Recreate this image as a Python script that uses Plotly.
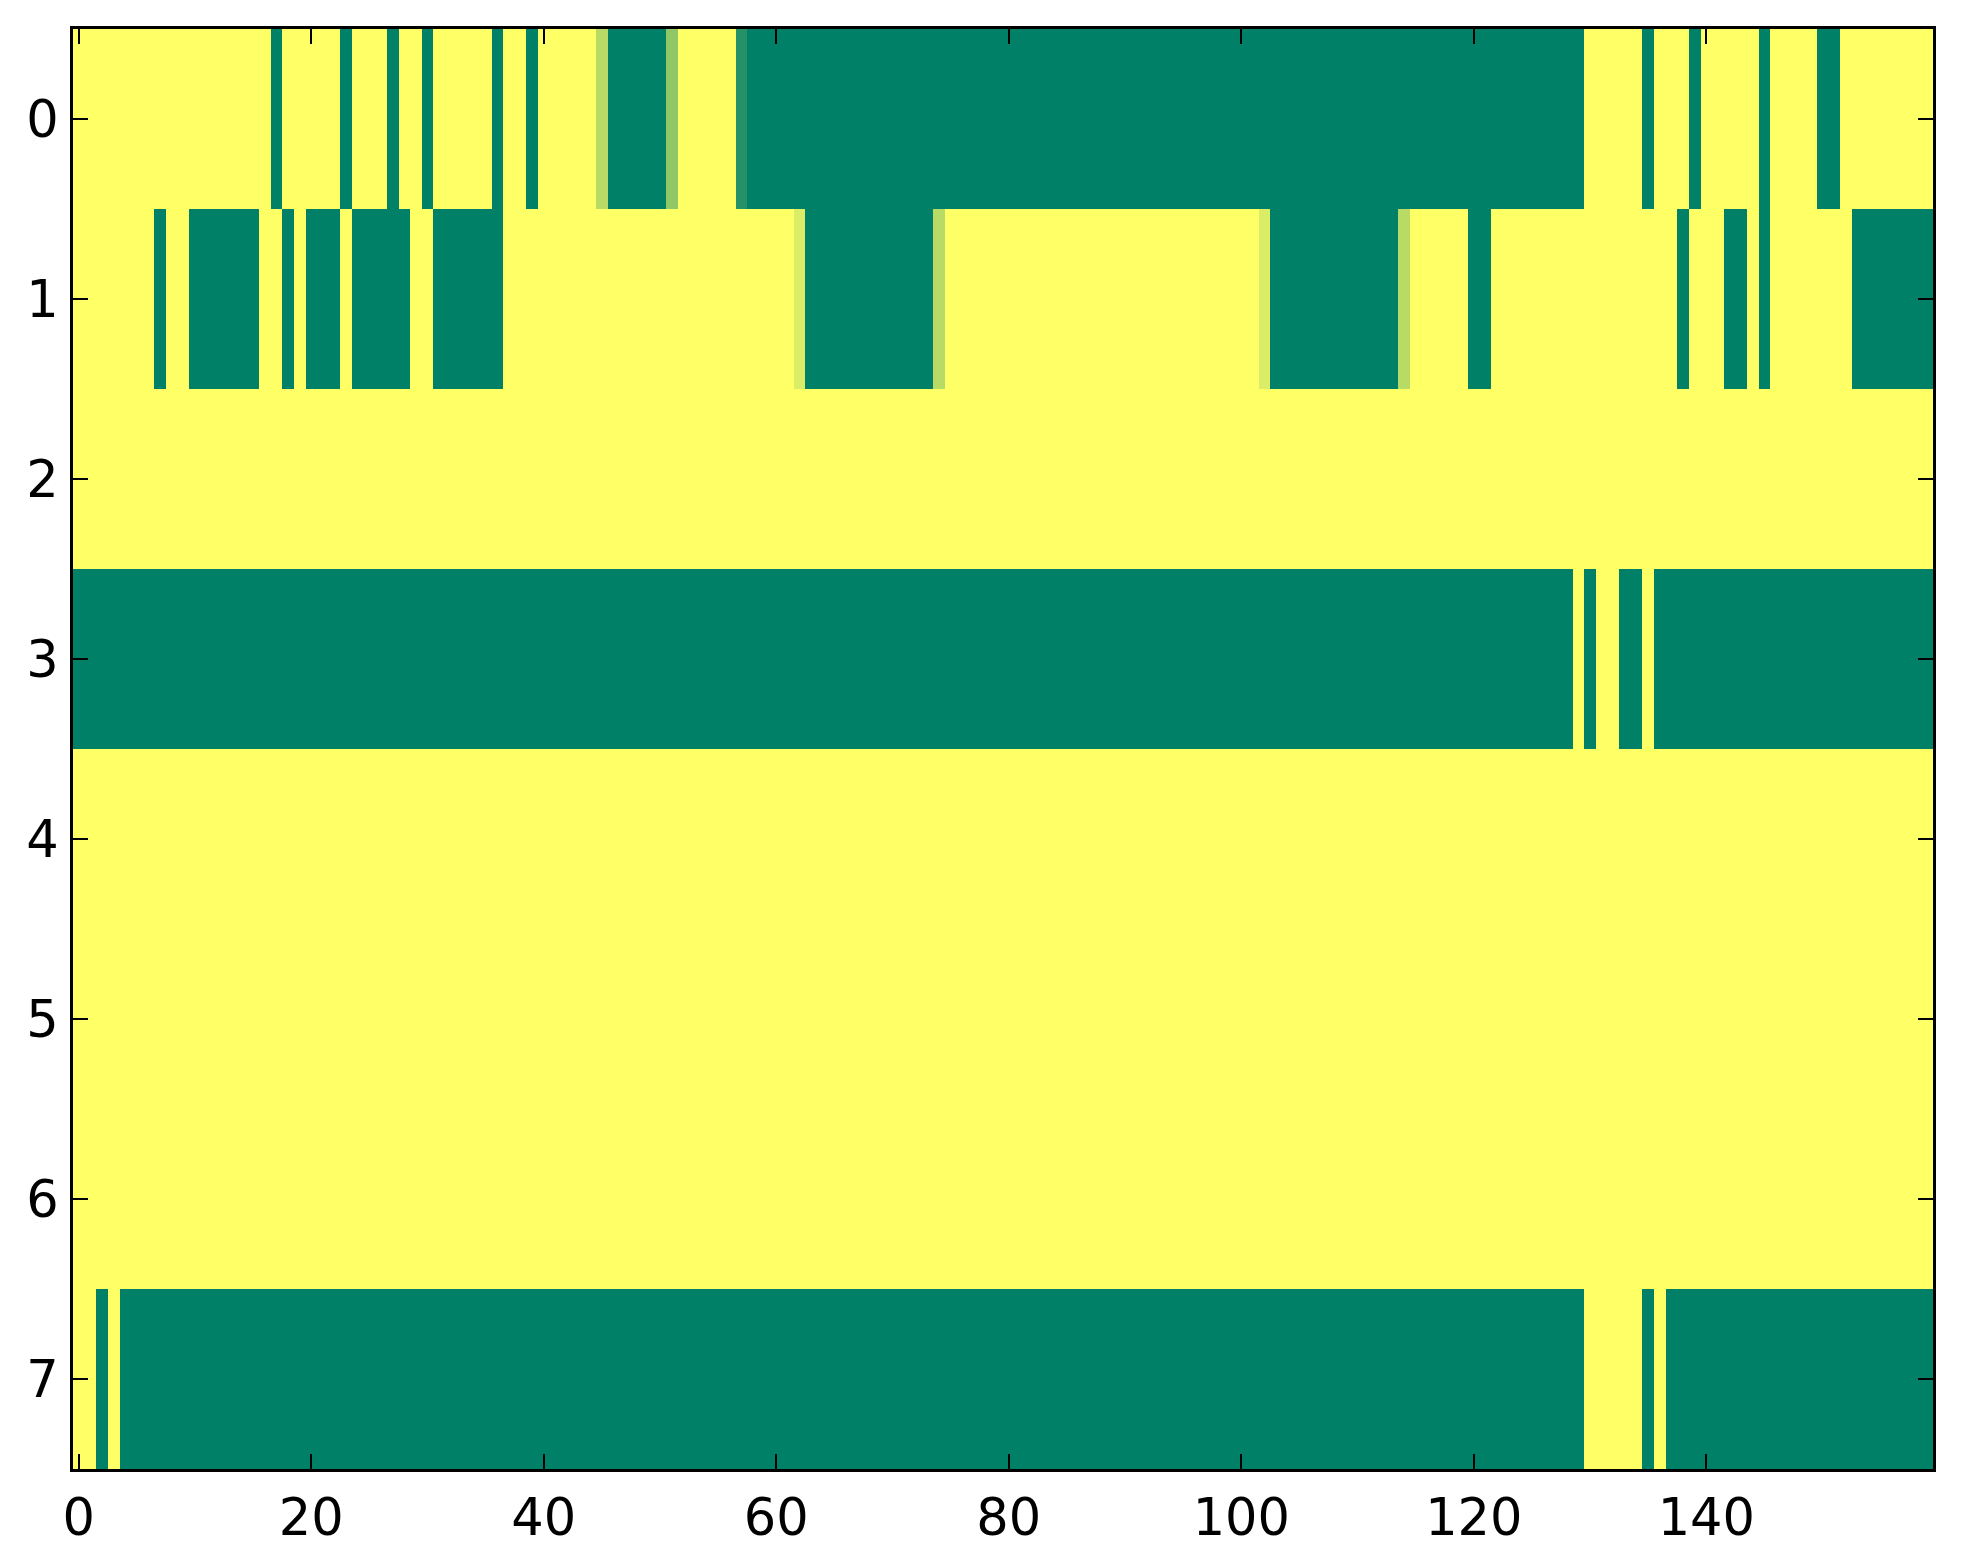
import plotly.graph_objects as go

# Column indices (0..159) and row indices (0..7)
col_index = list(range(160))
row_index = [0, 1, 2, 3, 4, 5, 6, 7]
x_tick_vals = [0, 20, 40, 60, 80, 100, 120, 140]
y_tick_vals = [0, 1, 2, 3, 4, 5, 6, 7]

# Values (1 = yellow, 0 = green, summer colormap)
row0 = [1, 1, 1, 1, 1, 1, 1, 1, 1, 1, 1, 1, 1, 1, 1, 1, 1, 0, 1, 1,
        1, 1, 1, 0, 1, 1, 1, 0, 1, 1, 0, 1, 1, 1, 1, 1, 0, 1, 1, 0,
        1, 1, 1, 1, 1, 0.72, 0, 0, 0, 0, 0, 0.57, 1, 1, 1, 1, 1, 0.14, 0, 0,
        0, 0, 0, 0, 0, 0, 0, 0, 0, 0, 0, 0, 0, 0, 0, 0, 0, 0, 0, 0,
        0, 0, 0, 0, 0, 0, 0, 0, 0, 0, 0, 0, 0, 0, 0, 0, 0, 0, 0, 0,
        0, 0, 0, 0, 0, 0, 0, 0, 0, 0, 0, 0, 0, 0, 0, 0, 0, 0, 0, 0,
        0, 0, 0, 0, 0, 0, 0, 0, 0, 0, 1, 1, 1, 1, 1, 0, 1, 1, 1, 0,
        1, 1, 1, 1, 1, 0, 1, 1, 1, 1, 0, 0, 1, 1, 1, 1, 1, 1, 1, 1]

row1 = [1, 1, 1, 1, 1, 1, 1, 0, 1, 1, 0, 0, 0, 0, 0, 0, 1, 1, 0, 1,
        0, 0, 0, 1, 0, 0, 0, 0, 0, 1, 1, 0, 0, 0, 0, 0, 0, 1, 1, 1,
        1, 1, 1, 1, 1, 1, 1, 1, 1, 1, 1, 1, 1, 1, 1, 1, 1, 1, 1, 1,
        1, 1, 0.86, 0, 0, 0, 0, 0, 0, 0, 0, 0, 0, 0, 0.72, 1, 1, 1, 1, 1,
        1, 1, 1, 1, 1, 1, 1, 1, 1, 1, 1, 1, 1, 1, 1, 1, 1, 1, 1, 1,
        1, 1, 0.86, 0, 0, 0, 0, 0, 0, 0, 0, 0, 0, 0, 0.72, 1, 1, 1, 1, 1,
        0, 0, 1, 1, 1, 1, 1, 1, 1, 1, 1, 1, 1, 1, 1, 1, 1, 1, 0, 1,
        1, 1, 0, 0, 1, 0, 1, 1, 1, 1, 1, 1, 1, 0, 0, 0, 0, 0, 0, 0]

row2 = [1, 1, 1, 1, 1, 1, 1, 1, 1, 1, 1, 1, 1, 1, 1, 1, 1, 1, 1, 1,
        1, 1, 1, 1, 1, 1, 1, 1, 1, 1, 1, 1, 1, 1, 1, 1, 1, 1, 1, 1,
        1, 1, 1, 1, 1, 1, 1, 1, 1, 1, 1, 1, 1, 1, 1, 1, 1, 1, 1, 1,
        1, 1, 1, 1, 1, 1, 1, 1, 1, 1, 1, 1, 1, 1, 1, 1, 1, 1, 1, 1,
        1, 1, 1, 1, 1, 1, 1, 1, 1, 1, 1, 1, 1, 1, 1, 1, 1, 1, 1, 1,
        1, 1, 1, 1, 1, 1, 1, 1, 1, 1, 1, 1, 1, 1, 1, 1, 1, 1, 1, 1,
        1, 1, 1, 1, 1, 1, 1, 1, 1, 1, 1, 1, 1, 1, 1, 1, 1, 1, 1, 1,
        1, 1, 1, 1, 1, 1, 1, 1, 1, 1, 1, 1, 1, 1, 1, 1, 1, 1, 1, 1]

row3 = [0, 0, 0, 0, 0, 0, 0, 0, 0, 0, 0, 0, 0, 0, 0, 0, 0, 0, 0, 0,
        0, 0, 0, 0, 0, 0, 0, 0, 0, 0, 0, 0, 0, 0, 0, 0, 0, 0, 0, 0,
        0, 0, 0, 0, 0, 0, 0, 0, 0, 0, 0, 0, 0, 0, 0, 0, 0, 0, 0, 0,
        0, 0, 0, 0, 0, 0, 0, 0, 0, 0, 0, 0, 0, 0, 0, 0, 0, 0, 0, 0,
        0, 0, 0, 0, 0, 0, 0, 0, 0, 0, 0, 0, 0, 0, 0, 0, 0, 0, 0, 0,
        0, 0, 0, 0, 0, 0, 0, 0, 0, 0, 0, 0, 0, 0, 0, 0, 0, 0, 0, 0,
        0, 0, 0, 0, 0, 0, 0, 0, 0, 1, 0, 1, 1, 0, 0, 1, 0, 0, 0, 0,
        0, 0, 0, 0, 0, 0, 0, 0, 0, 0, 0, 0, 0, 0, 0, 0, 0, 0, 0, 0]

row4 = [1, 1, 1, 1, 1, 1, 1, 1, 1, 1, 1, 1, 1, 1, 1, 1, 1, 1, 1, 1,
        1, 1, 1, 1, 1, 1, 1, 1, 1, 1, 1, 1, 1, 1, 1, 1, 1, 1, 1, 1,
        1, 1, 1, 1, 1, 1, 1, 1, 1, 1, 1, 1, 1, 1, 1, 1, 1, 1, 1, 1,
        1, 1, 1, 1, 1, 1, 1, 1, 1, 1, 1, 1, 1, 1, 1, 1, 1, 1, 1, 1,
        1, 1, 1, 1, 1, 1, 1, 1, 1, 1, 1, 1, 1, 1, 1, 1, 1, 1, 1, 1,
        1, 1, 1, 1, 1, 1, 1, 1, 1, 1, 1, 1, 1, 1, 1, 1, 1, 1, 1, 1,
        1, 1, 1, 1, 1, 1, 1, 1, 1, 1, 1, 1, 1, 1, 1, 1, 1, 1, 1, 1,
        1, 1, 1, 1, 1, 1, 1, 1, 1, 1, 1, 1, 1, 1, 1, 1, 1, 1, 1, 1]

row5 = [1, 1, 1, 1, 1, 1, 1, 1, 1, 1, 1, 1, 1, 1, 1, 1, 1, 1, 1, 1,
        1, 1, 1, 1, 1, 1, 1, 1, 1, 1, 1, 1, 1, 1, 1, 1, 1, 1, 1, 1,
        1, 1, 1, 1, 1, 1, 1, 1, 1, 1, 1, 1, 1, 1, 1, 1, 1, 1, 1, 1,
        1, 1, 1, 1, 1, 1, 1, 1, 1, 1, 1, 1, 1, 1, 1, 1, 1, 1, 1, 1,
        1, 1, 1, 1, 1, 1, 1, 1, 1, 1, 1, 1, 1, 1, 1, 1, 1, 1, 1, 1,
        1, 1, 1, 1, 1, 1, 1, 1, 1, 1, 1, 1, 1, 1, 1, 1, 1, 1, 1, 1,
        1, 1, 1, 1, 1, 1, 1, 1, 1, 1, 1, 1, 1, 1, 1, 1, 1, 1, 1, 1,
        1, 1, 1, 1, 1, 1, 1, 1, 1, 1, 1, 1, 1, 1, 1, 1, 1, 1, 1, 1]

row6 = [1, 1, 1, 1, 1, 1, 1, 1, 1, 1, 1, 1, 1, 1, 1, 1, 1, 1, 1, 1,
        1, 1, 1, 1, 1, 1, 1, 1, 1, 1, 1, 1, 1, 1, 1, 1, 1, 1, 1, 1,
        1, 1, 1, 1, 1, 1, 1, 1, 1, 1, 1, 1, 1, 1, 1, 1, 1, 1, 1, 1,
        1, 1, 1, 1, 1, 1, 1, 1, 1, 1, 1, 1, 1, 1, 1, 1, 1, 1, 1, 1,
        1, 1, 1, 1, 1, 1, 1, 1, 1, 1, 1, 1, 1, 1, 1, 1, 1, 1, 1, 1,
        1, 1, 1, 1, 1, 1, 1, 1, 1, 1, 1, 1, 1, 1, 1, 1, 1, 1, 1, 1,
        1, 1, 1, 1, 1, 1, 1, 1, 1, 1, 1, 1, 1, 1, 1, 1, 1, 1, 1, 1,
        1, 1, 1, 1, 1, 1, 1, 1, 1, 1, 1, 1, 1, 1, 1, 1, 1, 1, 1, 1]

row7 = [1, 1, 0, 1, 0, 0, 0, 0, 0, 0, 0, 0, 0, 0, 0, 0, 0, 0, 0, 0,
        0, 0, 0, 0, 0, 0, 0, 0, 0, 0, 0, 0, 0, 0, 0, 0, 0, 0, 0, 0,
        0, 0, 0, 0, 0, 0, 0, 0, 0, 0, 0, 0, 0, 0, 0, 0, 0, 0, 0, 0,
        0, 0, 0, 0, 0, 0, 0, 0, 0, 0, 0, 0, 0, 0, 0, 0, 0, 0, 0, 0,
        0, 0, 0, 0, 0, 0, 0, 0, 0, 0, 0, 0, 0, 0, 0, 0, 0, 0, 0, 0,
        0, 0, 0, 0, 0, 0, 0, 0, 0, 0, 0, 0, 0, 0, 0, 0, 0, 0, 0, 0,
        0, 0, 0, 0, 0, 0, 0, 0, 0, 0, 1, 1, 1, 1, 1, 0, 1, 0, 0, 0,
        0, 0, 0, 0, 0, 0, 0, 0, 0, 0, 0, 0, 0, 0, 0, 0, 0, 0, 0, 0]

z = [row0, row1, row2, row3, row4, row5, row6, row7]

summer = [[0.0, "rgb(0,128,102)"], [1.0, "rgb(255,255,102)"]]

fig = go.Figure(
    go.Heatmap(
        z=z,
        x=col_index,
        y=row_index,
        colorscale=summer,
        zmin=0,
        zmax=1,
        showscale=False,
        hoverinfo="x+y+z",
    )
)

axis_common = dict(
    showline=True,
    linecolor="black",
    linewidth=3,
    mirror="ticks",
    ticks="inside",
    ticklen=15,
    tickwidth=1.5,
    tickcolor="black",
    showgrid=False,
    zeroline=False,
    tickfont=dict(family="DejaVu Sans", size=51, color="black"),
)

fig.update_xaxes(
    range=[-0.5, 159.5],
    tickvals=x_tick_vals,
    ticktext=[str(v) for v in x_tick_vals],
    ticklabelstandoff=2,
    **axis_common,
)
fig.update_yaxes(
    range=[7.5, -0.5],
    tickvals=y_tick_vals,
    ticktext=[str(v) for v in y_tick_vals],
    ticklabelstandoff=1,
    **axis_common,
)

fig.update_layout(
    width=1963,
    height=1564,
    margin=dict(l=65, r=38, t=21, b=103),
    paper_bgcolor="white",
    plot_bgcolor="white",
    font=dict(family="DejaVu Sans", color="black"),
)

fig.write_html("out.html")
